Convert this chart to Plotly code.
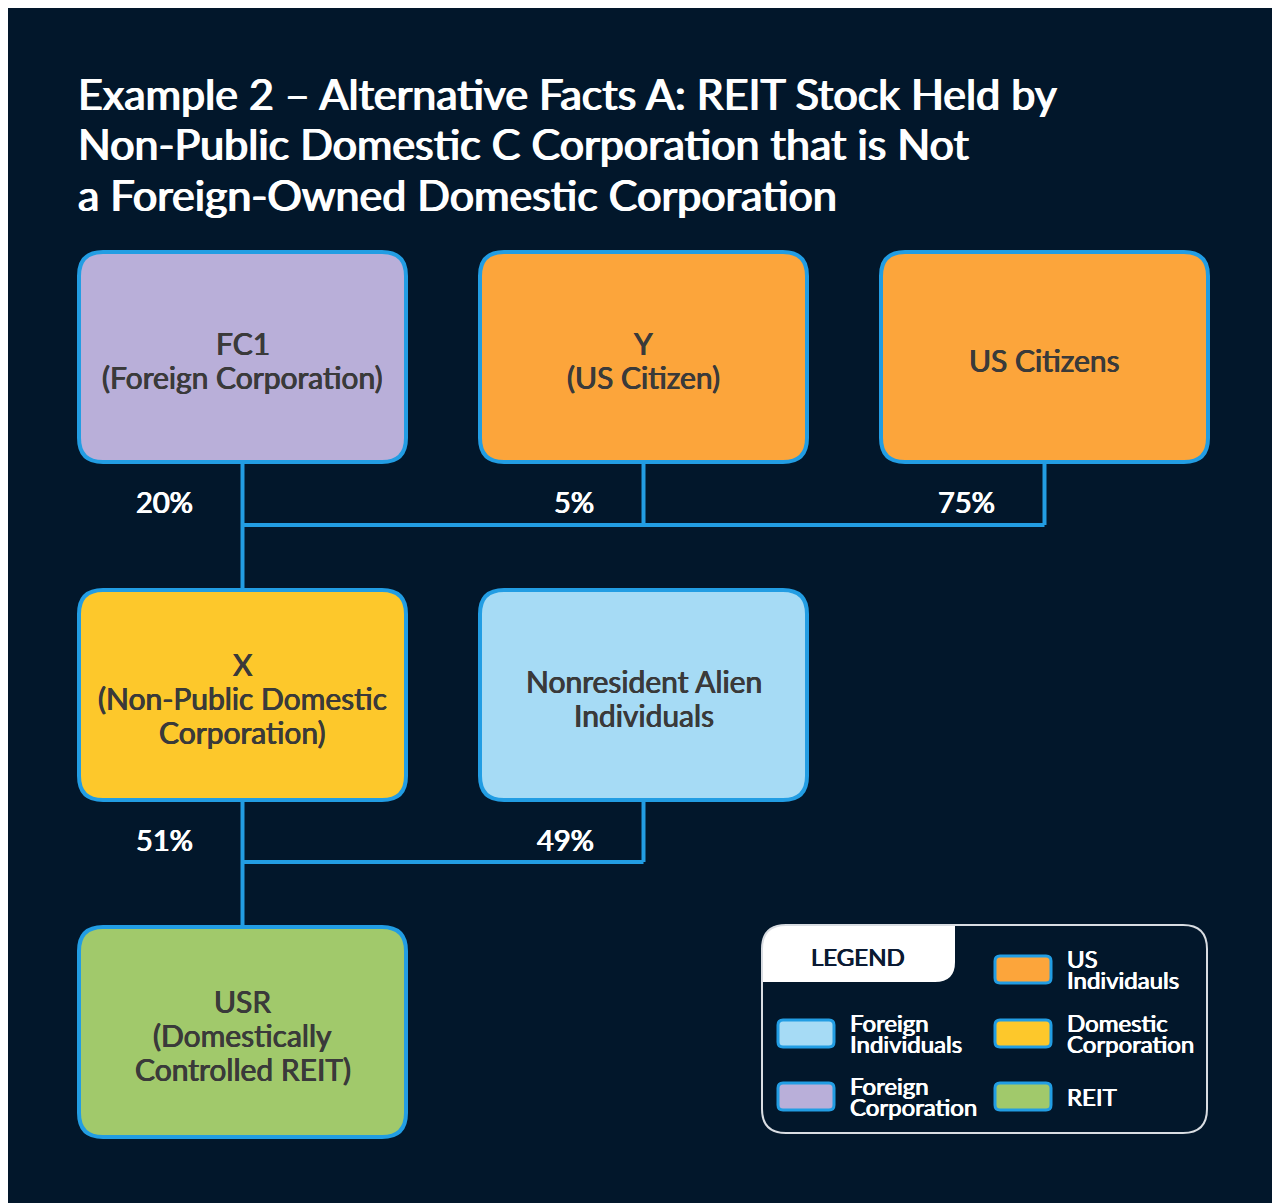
import plotly.graph_objects as go

# ---- data ----
node_ids = ["FC1", "Y", "USC", "X", "NRA", "USR"]
node_labels = [
    "FC1<br>(Foreign Corporation)",
    "Y<br>(US Citizen)",
    "US Citizens",
    "X<br>(Non-Public Domestic<br>Corporation)",
    "Nonresident Alien<br>Individuals",
    "USR<br>(Domestically<br>Controlled REIT)",
]
node_types = ["Foreign Corporation", "US Individuals", "US Individuals",
              "Domestic Corporation", "Foreign Individuals", "REIT"]
node_col = [0, 1, 2, 0, 1, 0]
node_row = [0, 0, 0, 1, 1, 2]

edge_parent = ["FC1", "Y", "USC", "X", "NRA"]
edge_child = ["X", "X", "X", "USR", "USR"]
edge_pct = ["20%", "5%", "75%", "51%", "49%"]

legend_labels = ["US<br>Individauls", "Foreign<br>Individuals", "Domestic<br>Corporation",
                 "Foreign<br>Corporation", "REIT"]
legend_types = ["US Individuals", "Foreign Individuals", "Domestic Corporation",
                "Foreign Corporation", "REIT"]

title_lines = ["Example 2 – Alternative Facts A: REIT Stock Held by",
               "Non-Public Domestic C Corporation that is Not",
               "a Foreign-Owned Domestic Corporation"]

# ---- styles ----
W, H = 1280, 1203
OFF = 8  # browser body margin
BG = "#02172b"
EDGE = "#229de3"
FILL = {
    "Foreign Corporation": "#b9afd9",
    "US Individuals": "#fca53b",
    "Domestic Corporation": "#fdc82b",
    "Foreign Individuals": "#a6dbf5",
    "REIT": "#a1c96b",
}
FONT = "Lato"
BOX_W, BOX_H = 327, 210
COL_X = [79, 480, 881]
ROW_Y = [252, 590, 927]


def semi(color, d=0.45):
    # fake a semibold weight with a thin text shadow
    return f"{d}px 0 0 {color}, -{d}px 0 0 {color}"


def rrect(x0, y0, x1, y1, r):
    return (f"M{x0+r},{y0} L{x1-r},{y0} Q{x1},{y0} {x1},{y0+r} "
            f"L{x1},{y1-r} Q{x1},{y1} {x1-r},{y1} L{x0+r},{y1} "
            f"Q{x0},{y1} {x0},{y1-r} L{x0},{y0+r} Q{x0},{y0} {x0+r},{y0} Z")


fig = go.Figure()
shapes = []
annotations = []

shapes.append(dict(type="rect", x0=0, x1=W + 20, y0=0, y1=H + 20, fillcolor=BG,
                   line_width=0, layer="below"))

# node geometry
geo = {}
for nid, c, r in zip(node_ids, node_col, node_row):
    x0, y0 = COL_X[c], ROW_Y[r]
    geo[nid] = (x0, y0, x0 + BOX_W, y0 + BOX_H)

# connectors
children = {}
for p, ch, pct in zip(edge_parent, edge_child, edge_pct):
    children.setdefault(ch, []).append((p, pct))
for ch, parents in children.items():
    cx0, cy0, cx1, cy1 = geo[ch]
    ccx = (cx0 + cx1) / 2
    bus_y = cy0 - 65
    xs = [ccx]
    for p, pct in parents:
        px0, py0, px1, py1 = geo[p]
        pcx = (px0 + px1) / 2
        xs.append(pcx)
        shapes.append(dict(type="line", x0=pcx, x1=pcx, y0=py1, y1=bus_y,
                           line=dict(color=EDGE, width=4)))
        annotations.append(dict(x=pcx - 48, y=(py1 + bus_y) / 2 + 8, xanchor="right",
                                text=pct, showarrow=False,
                                font=dict(family=FONT, size=29, color="white",
                                          shadow=semi("white", 0.6))))
    shapes.append(dict(type="line", x0=min(xs), x1=max(xs), y0=bus_y, y1=bus_y,
                       line=dict(color=EDGE, width=4)))
    shapes.append(dict(type="line", x0=ccx, x1=ccx, y0=bus_y, y1=cy0,
                       line=dict(color=EDGE, width=4)))

# boxes
for nid, lab, t in zip(node_ids, node_labels, node_types):
    x0, y0, x1, y1 = geo[nid]
    shapes.append(dict(type="path", path=rrect(x0, y0, x1, y1, 24),
                       fillcolor=FILL[t], line=dict(color=EDGE, width=4)))
    lines = lab.split("<br>")
    n = len(lines)
    for i, ln in enumerate(lines):
        yy = (y0 + y1) / 2 + 3 + (i - (n - 1) / 2) * 34
        annotations.append(dict(x=(x0 + x1) / 2, y=yy, text=ln, showarrow=False,
                                font=dict(family=FONT, size=30, color="#3a3a3a",
                                          shadow=semi("#3a3a3a", 0.45))))

# title
for i, ln in enumerate(title_lines):
    annotations.append(dict(x=76, y=93 + i * 50.5, xanchor="left", yanchor="middle",
                            text=ln, showarrow=False,
                            font=dict(family=FONT, size=43, color="white",
                                      shadow=semi("white", 0.8))))

# legend
LX0, LY0, LX1, LY1 = 762, 925, 1207, 1133
tab = (f"M{LX0},{LY0+24} Q{LX0},{LY0} {LX0+24},{LY0} L955,{LY0} L955,962 "
       f"Q955,982 935,982 L{LX0},982 Z")
shapes.append(dict(type="path", path=tab, fillcolor="white", line_width=0))
shapes.append(dict(type="path", path=rrect(LX0, LY0, LX1, LY1, 24),
                   fillcolor="rgba(0,0,0,0)", line=dict(color="#d9dde2", width=2)))
annotations.append(dict(x=858, y=956, text="LEGEND", showarrow=False,
                        font=dict(family=FONT, size=24, color="#0b1a33",
                                  shadow=semi("#0b1a33", 0.5))))

leg_pos = [(995, 956), (778, 1020), (995, 1020), (778, 1083), (995, 1083)]
for lab, t, (sx, sy) in zip(legend_labels, legend_types, leg_pos):
    shapes.append(dict(type="path", path=rrect(sx, sy, sx + 56, sy + 27, 5),
                       fillcolor=FILL[t], line=dict(color=EDGE, width=3)))
    lines = lab.split("<br>")
    n = len(lines)
    for i, ln in enumerate(lines):
        yy = sy + 13 + (i - (n - 1) / 2) * 21
        annotations.append(dict(x=sx + 70, y=yy, xanchor="left", text=ln, showarrow=False,
                                font=dict(family=FONT, size=24, color="white",
                                          shadow=semi("white", 0.45))))

fig.update_layout(
    width=W - OFF, height=H - OFF,
    margin=dict(l=0, r=0, t=0, b=0),
    paper_bgcolor="white", plot_bgcolor="white",
    xaxis=dict(range=[OFF, W], visible=False, fixedrange=True),
    yaxis=dict(range=[H, OFF], visible=False, fixedrange=True),
    shapes=shapes, annotations=annotations,
    showlegend=False,
)
fig.write_html("out.html")
